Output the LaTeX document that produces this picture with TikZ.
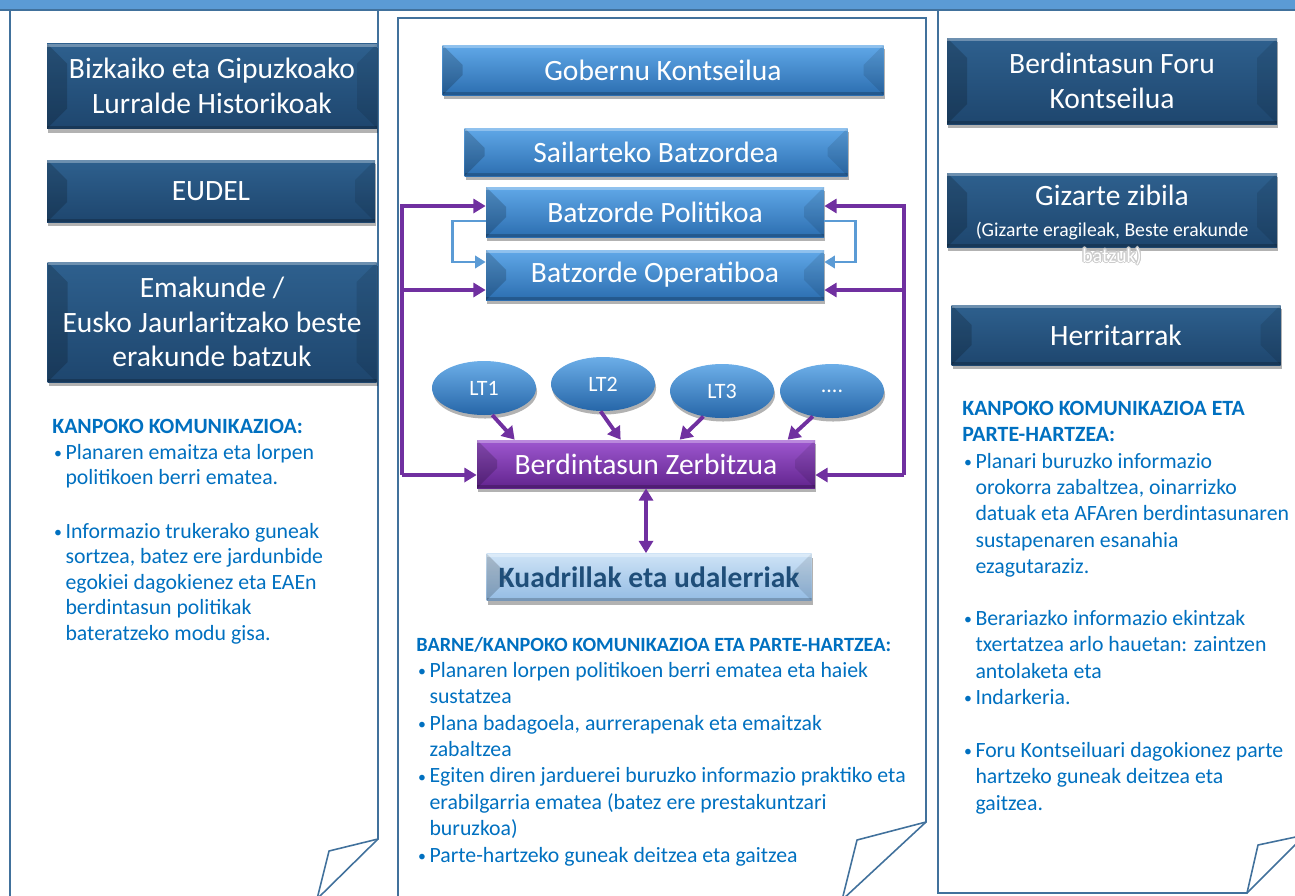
\documentclass[tikz,border=0pt]{standalone}
\usepackage{fontspec}
\setmainfont{Carlito}
\usepackage[copies]{contour}
\usetikzlibrary{arrows.meta,shapes.geometric,shadows}

\definecolor{barblue}{RGB}{91,155,213}
\definecolor{panelline}{RGB}{65,113,156}
\definecolor{navytop}{RGB}{46,96,142}
\definecolor{navybot}{RGB}{30,70,110}
\definecolor{bluetop}{RGB}{96,168,232}
\definecolor{bluebot}{RGB}{44,110,176}
\definecolor{purpletop}{RGB}{158,88,208}
\definecolor{purplebot}{RGB}{98,36,142}
\definecolor{paletop}{RGB}{206,227,246}
\definecolor{palebot}{RGB}{148,188,228}
\definecolor{navytext}{RGB}{31,78,121}
\definecolor{textblue}{RGB}{0,112,192}
\definecolor{loopblue}{RGB}{91,155,213}
\definecolor{linkpurple}{RGB}{112,48,160}
\definecolor{lttop}{RGB}{108,174,232}
\definecolor{ltbot}{RGB}{38,102,168}

\newlength\unitpx
\setlength\unitpx{0.02cm}
\newcommand\bul{\makebox[7.5pt][l]{\hspace{1pt}\raisebox{.5pt}{\fontsize{9}{9}\selectfont\textbullet}}}
\newcommand\ind{\hspace*{7.5pt}}
\contourlength{0.6pt}

\tikzset{
  bevel/.style={path picture={
      \fill[black,opacity=.18] (path picture bounding box.north west)
        -- ([shift={(20,20)}]path picture bounding box.north west)
        -- ([shift={(20,-20)}]path picture bounding box.south west)
        -- (path picture bounding box.south west) -- cycle;
      \fill[black,opacity=.10] (path picture bounding box.north east)
        -- ([shift={(-20,20)}]path picture bounding box.north east)
        -- ([shift={(-20,-20)}]path picture bounding box.south east)
        -- (path picture bounding box.south east) -- cycle;
      \fill[white,opacity=.30] (path picture bounding box.north west)
        rectangle ([shift={(0,3)}]path picture bounding box.north east);
      \fill[black,opacity=.20] (path picture bounding box.south west)
        rectangle ([shift={(0,-3)}]path picture bounding box.south east);
  }},
  box/.style={rectangle, inner sep=0pt, align=center, text=white,
    font=\fontsize{16.8}{19.8}\selectfont, bevel,
    drop shadow={shadow xshift=.6pt, shadow yshift=-2.4pt, opacity=.3, fill=black}},
  navybox/.style={box, top color=navytop, bottom color=navybot},
  bluebox/.style={box, top color=bluetop, bottom color=bluebot},
  purplebox/.style={box, top color=purpletop, bottom color=purplebot},
  palebox/.style={box, top color=paletop, bottom color=palebot, text=navytext,
    font=\fontsize{16.8}{19.8}\selectfont\bfseries},
  ltnode/.style={ellipse, inner sep=0pt, minimum width=104\unitpx, minimum height=54\unitpx,
    top color=lttop, bottom color=ltbot, text=white, font=\fontsize{12.5}{15}\selectfont,
    drop shadow={shadow xshift=.6pt, shadow yshift=-2pt, opacity=.3, fill=black}},
  panel/.style={draw=panelline, line width=.9pt},
  commtext/.style={anchor=base west, inner sep=0pt, align=left, text=textblue,
    font=\fontsize{12.4}{15}\selectfont},
  loopline/.style={draw=loopblue, line width=1.5pt, -{Triangle[length=6pt,width=7pt]}},
  linkline/.style={draw=linkpurple, line width=1.8pt, -{Triangle[length=7pt,width=8pt]}},
  ltline/.style={draw=linkpurple, line width=2.2pt, -{Triangle[length=7pt,width=8.5pt]}},
}

\begin{document}
\begin{tikzpicture}[x=0.02cm, y=-0.02cm]
  \useasboundingbox (0,0) rectangle (1295,896);

  % Top band
  \fill[barblue] (0,0) rectangle (1295,10);
  \draw[panelline, line width=1pt] (0,10) -- (1295,10);

  % Pages with folded corners
  \draw[panel] (10,905) -- (10,10);
  \draw[panel] (378,10) -- (378,839) -- (329,851) -- (317,899);
  \draw[panel] (378,839) -- (317,899);
  \draw[panel] (398,905) -- (398,18) -- (926,18) -- (926,822) -- (857,840) -- (842,900);
  \draw[panel] (926,822) -- (842,900);
  \draw[panel] (938,10) -- (938,893) -- (1247,893) -- (1258,845) -- (1305,835);
  \draw[panel] (1247,893) -- (1305,835);

  % Left column
  \node[navybox, minimum width=330\unitpx, minimum height=85\unitpx] (bizkaia) at (212,86)
    {Bizkaiko eta Gipuzkoako\\Lurralde Historikoak};
  \node[navybox, minimum width=328\unitpx, minimum height=62\unitpx] (eudel) at (211,191) {EUDEL};
  \node[navybox, minimum width=329\unitpx, minimum height=120\unitpx] (emakunde) at (212,322)
    {Emakunde /\\Eusko Jaurlaritzako beste\\erakunde batzuk};

  \node[commtext, font=\fontsize{12.4}{14.5}\selectfont] (leftcom) at (52,640) {%
    \textbf{KANPOKO KOMUNIKAZIOA:}\\
    \bul Planaren emaitza eta lorpen\\
    \ind politikoen berri ematea.\\[16pt]
    \bul Informazio trukerako guneak\\
    \ind sortzea, batez ere jardunbide\\
    \ind egokiei dagokienez eta EAEn\\
    \ind berdintasun politikak\\
    \ind bateratzeko modu gisa.};

  % Centre column
  \node[bluebox, minimum width=441\unitpx, minimum height=50\unitpx] (gobernu) at (663,70) {Gobernu Kontseilua};
  \node[bluebox, minimum width=383\unitpx, minimum height=48\unitpx] (sailarteko) at (656,152) {Sailarteko Batzordea};
  \node[bluebox, minimum width=338\unitpx, minimum height=50\unitpx] (politikoa) at (655,212) {Batzorde Politikoa};
  \node[bluebox, minimum width=338\unitpx, minimum height=50\unitpx] (operatiboa) at (655,275) {Batzorde Operatiboa};

  \node[ltnode] (lt1) at (484,388) {LT1};
  \node[ltnode] (lt2) at (603,384) {LT2};
  \node[ltnode] (lt3) at (722,391) {LT3};
  \node[ltnode] (ltmore) at (832,391) {....};

  \node[purplebox, minimum width=338\unitpx, minimum height=48\unitpx] (zerbitzua) at (646,464) {Berdintasun Zerbitzua};
  \node[palebox, minimum width=325\unitpx, minimum height=47\unitpx] (kuadrillak) at (649,577) {Kuadrillak eta udalerriak};

  % Loops between the two committees
  \draw[loopline] ([yshift=-9\unitpx]politikoa.west) -- ++(-33,0) |- ([yshift=13\unitpx]operatiboa.west);
  \draw[loopline] ([yshift=-9\unitpx]politikoa.east) -- ++(31,0) |- ([yshift=13\unitpx]operatiboa.east);

  % Links to the equality service
  \coordinate (lefttop) at (402,206);
  \coordinate (leftbot) at (402,475);
  \coordinate (righttop) at (904,206);
  \coordinate (rightbot) at (904,475);
  \draw[linkline] (leftbot) -- (lefttop) -- (lefttop -| politikoa.west);
  \draw[linkline] (lefttop |- operatiboa.west) ++(0,15) -- ([yshift=-15\unitpx]operatiboa.west);
  \draw[linkline] (leftbot) -- (leftbot -| zerbitzua.west);
  \draw[linkline] (rightbot) -- (righttop) -- (righttop -| politikoa.east);
  \draw[linkline] (righttop |- operatiboa.east) ++(0,15) -- ([yshift=-15\unitpx]operatiboa.east);
  \draw[linkline] (rightbot) -- (rightbot -| zerbitzua.east);

  \draw[ltline] (lt1.-73) -- ([xshift=38\unitpx]zerbitzua.north west);
  \draw[ltline] (lt2.-95) -- ([xshift=144\unitpx]zerbitzua.north west);
  \draw[ltline] (lt3.-126) -- ([xshift=203\unitpx]zerbitzua.north west);
  \draw[ltline] (ltmore.-127) -- ([xshift=311\unitpx]zerbitzua.north west);
  \draw[linkline, {Triangle[length=7pt,width=8pt]}-{Triangle[length=7pt,width=8pt]}]
    (zerbitzua.south) -- (zerbitzua.south |- kuadrillak.north);

  \node[commtext] (midcom) at (416,862) {%
    {\fontsize{11.5}{15}\selectfont\bfseries BARNE/KANPOKO KOMUNIKAZIOA ETA PARTE-HARTZEA:}\\
    \bul Planaren lorpen politikoen berri ematea eta haiek\\
    \ind sustatzea\\
    \bul Plana badagoela, aurrerapenak eta emaitzak\\
    \ind zabaltzea\\
    \bul Egiten diren jarduerei buruzko informazio praktiko eta\\
    \ind erabilgarria ematea (batez ere prestakuntzari\\
    \ind buruzkoa)\\
    \bul Parte-hartzeko guneak deitzea eta gaitzea};

  % Right column
  \node[navybox, minimum width=330\unitpx, minimum height=86\unitpx] (foru) at (1112,81)
    {Berdintasun Foru\\Kontseilua};
  \node[navybox, minimum width=330\unitpx, minimum height=74\unitpx] (gizarte) at (1112,210) {};
  \node[anchor=base, inner sep=0pt, align=center, text=white, font=\fontsize{16.8}{19.5}\selectfont]
    (gizartelabel) at (1112,262)
    {Gizarte zibila\\[-2pt]
     {\fontsize{11.2}{13}\selectfont(Gizarte eragileak, Beste erakunde}\\[-5pt]
     {\fontsize{11.2}{13}\selectfont\contour{black!20}{batzuk)}}};
  \node[navybox, minimum width=329\unitpx, minimum height=60\unitpx] (herritarrak) at (1116,335) {Herritarrak};

  \node[commtext] (rightcom) at (962,810) {%
    \textbf{KANPOKO KOMUNIKAZIOA ETA}\\
    \textbf{PARTE-HARTZEA:}\\
    \bul Planari buruzko informazio\\
    \ind orokorra zabaltzea, oinarrizko\\
    \ind datuak eta AFAren berdintasunaren\\
    \ind sustapenaren esanahia\\
    \ind ezagutaraziz.\\[14.5pt]
    \bul Berariazko informazio ekintzak\\
    \ind txertatzea arlo hauetan: zaintzen\\
    \ind antolaketa eta\\
    \bul Indarkeria.\\[15pt]
    \bul Foru Kontseiluari dagokionez parte\\
    \ind hartzeko guneak deitzea eta\\
    \ind gaitzea.};
\end{tikzpicture}
\end{document}
